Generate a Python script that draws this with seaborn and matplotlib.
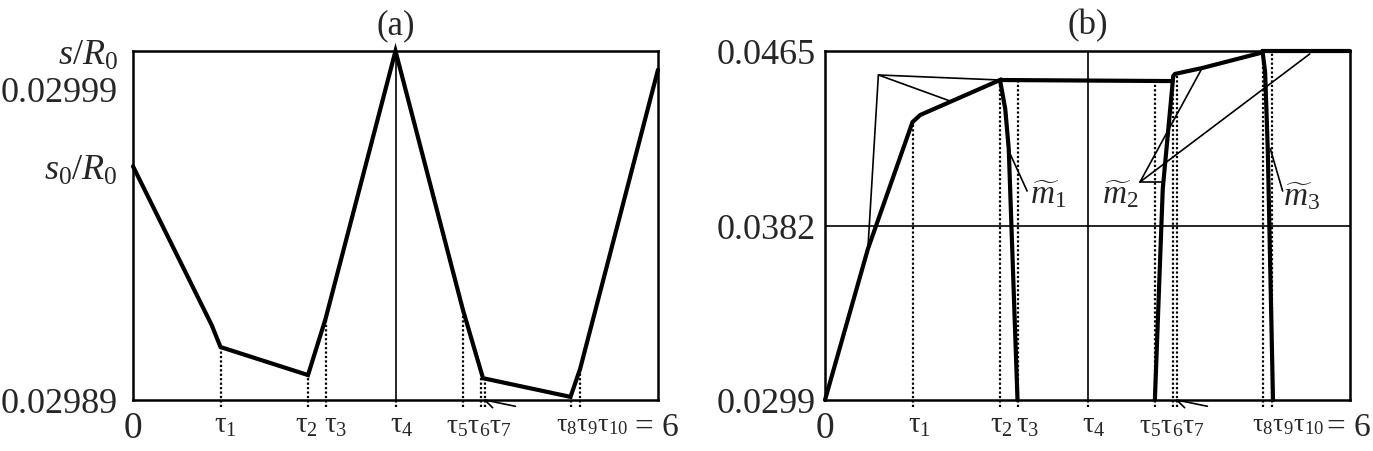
import pandas as pd
import seaborn as sns
import matplotlib.pyplot as plt
from matplotlib.transforms import blended_transform_factory, offset_copy

sns.set_style('white')
plt.rcParams['font.family'] = ['Liberation Serif', 'DejaVu Serif']
plt.rcParams['mathtext.fontset'] = 'custom'
plt.rcParams['mathtext.rm'] = 'Liberation Serif'
plt.rcParams['mathtext.it'] = 'Liberation Serif:italic'
plt.rcParams['mathtext.bf'] = 'Liberation Serif:bold'

# switching instants (same in both panels), tau10 = 6
tau = [1.0, 2.0, 2.2, 3.0, 3.77, 3.98, 4.02, 5.0, 5.11, 6.0]

# ---- panel (a): s/R0 trajectory
a_x = [0, 0.9, 1.0, 2.0, 2.2, 3.0, 3.77, 4.0, 5.0, 5.11, 6.0]
a_y = [0.029965, 0.029914, 0.029907, 0.029898, 0.029916, 0.030002,
       0.029919, 0.029897, 0.029891, 0.029900, 0.029996]
a_ylim = (0.02989, 0.030002)
a_yticks = [0.02989, 0.029965, 0.02999, 0.030002]
a_yticklabels = ['0.02989', '$s_0/R_0$', '0.02999', '$s/R_0$']
# top of the dotted drop line for tau1..tau9 (None -> solid full line)
a_drop = [0.029907, 0.029898, 0.029916, None, 0.029919, 0.029897, 0.029897, 0.029891, 0.029900]

# ---- panel (b): thick curves
b_c1_x = [0, 0.49, 1.0, 1.09, 2.0, 2.06, 2.1, 2.2]
b_c1_y = [0.0299, 0.03708, 0.04312, 0.04346, 0.04512, 0.04374, 0.04184, 0.0299]
b_c2_x = [2.0, 3.96]
b_c2_y = [0.04512, 0.04507]
b_c3_x = [3.77, 3.86, 3.98, 4.0, 4.31, 4.98, 5.0, 6.0]
b_c3_y = [0.0299, 0.03994, 0.04531, 0.04541, 0.04569, 0.04641, 0.0465, 0.0465]
b_c4_x = [5.0, 5.03, 5.06, 5.12]
b_c4_y = [0.0465, 0.0455, 0.04184, 0.0299]
# thin curves
b_t1_x = [0.49, 0.61, 2.0]
b_t1_y = [0.03708, 0.04536, 0.04512]
b_t2_x = [0.61, 1.43]
b_t2_y = [0.04536, 0.04412]
b_ylim = (0.0299, 0.0465)
b_yticks = [0.0299, 0.0382, 0.0465]
b_yticklabels = ['0.0299', '0.0382', '0.0465']
b_drop = [0.04312, 0.04512, 0.04512, None, 0.04507, 0.04531, 0.04541, 0.0465, 0.0465]

# m~ labels: (text, pointer x, pointer y, pointer targets, label x, label y, align)
b_marks = [
    (r'$\widetilde{m}_1$', 2.31, 0.03984, [(2.09, 0.04184)], 2.34, 0.03975, 'left'),
    (r'$\widetilde{m}_2$', 3.6, 0.04027, [(4.31, 0.04569), (5.54, 0.04636), (3.86, 0.04027)],
     3.59, 0.03975, 'right'),
    (r'$\widetilde{m}_3$', 5.23, 0.03984, [(5.09, 0.04184)], 5.23, 0.03965, 'left'),
]


def t(n):
    return r'\mathrm{\tau}_{%d}' % n


# bottom labels: (tau index, text, x offset in px, font size)
a_labels = [(0, '$' + t(1) + '$', -6, 21), (1, '$' + t(2) + '$', -13, 21),
            (2, '$' + t(3) + '$', -1, 21), (3, '$' + t(4) + '$', -6, 21),
            (4, '$' + t(5) + t(6) + t(7) + '$', -17, 20),
            (7, '$' + t(8) + t(9) + t(10) + '$', -15, 19)]
b_labels = [(0, '$' + t(1) + '$', -5, 21), (1, '$' + t(2) + '$', -10, 21),
            (2, '$' + t(3) + '$', -2, 21), (3, '$' + t(4) + '$', -5, 21),
            (4, '$' + t(5) + t(6) + t(7) + '$', -16, 20),
            (7, '$' + t(8) + t(9) + t(10) + '$', -11, 19)]

fig = plt.figure(figsize=(13.73, 4.52), dpi=100)
ax_a = fig.add_axes([133 / 1373, 51 / 452, 525 / 1373, 349 / 452])
ax_b = fig.add_axes([825 / 1373, 51 / 452, 525 / 1373, 349 / 452])

THICK, THIN, SPINE = 3.0, 1.2, 1.8
DOT = (0, (1, 1))


def thick(ax, xs, ys):
    df = pd.DataFrame({'t': xs, 'v': ys})
    sns.lineplot(data=df, x='t', y='v', ax=ax, sort=False, estimator=None,
                 color='black', lw=THICK, clip_on=False, solid_joinstyle='miter')


def thin(ax, xs, ys):
    df = pd.DataFrame({'t': xs, 'v': ys})
    sns.lineplot(data=df, x='t', y='v', ax=ax, sort=False, estimator=None,
                 color='black', lw=THIN, clip_on=False)


def frame(ax, ylim, yticks, yticklabels, drops, labels, pad, title):
    ax.set_xlim(0, 6)
    ax.set_ylim(*ylim)
    span = ylim[1] - ylim[0]
    low = ylim[0] - 0.02 * span
    for k, top in enumerate(drops):
        if top is None:
            ax.vlines(tau[k], ylim[0], ylim[1], color='black', lw=THIN)
            ax.vlines(tau[k], low, ylim[0], color='black', lw=1.6, linestyles=DOT, clip_on=False)
        else:
            ax.vlines(tau[k], low, top, color='black', lw=1.6, linestyles=DOT, clip_on=False)
    ax.set_xticks([])
    ax.set_yticks(yticks)
    ax.set_yticklabels(yticklabels)
    ax.tick_params(axis='y', length=0, pad=pad, labelsize=26)
    ax.set_xlabel('')
    ax.set_ylabel('')
    for s in ax.spines.values():
        s.set_visible(True)
        s.set_color('black')
        s.set_linewidth(SPINE)
    tr = blended_transform_factory(ax.transData, ax.transAxes)
    ax.text(0, -0.08, '0', transform=tr, ha='center', va='center', fontsize=27)
    for k, txt, dx, fs in labels:
        ax.text(tau[k], -0.072, txt, transform=offset_copy(tr, fig=fig, x=dx, y=0, units='dots'),
                ha='left', va='center', fontsize=fs)
    # "= 6" after tau10
    ax.text(tau[9], -0.078, '= 6', transform=offset_copy(tr, fig=fig, x=21, y=0, units='dots'),
            ha='right', va='center', fontsize=24)
    # small pointer wedge next to tau7
    ax.plot([tau[6] + 0.35, tau[6], tau[6] + 0.09], [-0.018, 0, -0.022], transform=tr,
            color='black', lw=THIN, clip_on=False)
    ax.text(0.5, 1.075, title, transform=ax.transAxes, ha='center', va='center', fontsize=25)


# panel (a)
thick(ax_a, a_x, a_y)
frame(ax_a, a_ylim, a_yticks, a_yticklabels, a_drop, a_labels, 11, '(a)')

# panel (b)
ax_b.axhline(0.0382, color='black', lw=THIN)
thin(ax_b, b_t1_x, b_t1_y)
thin(ax_b, b_t2_x, b_t2_y)
for txt, px, py, targets, lx, ly, ha in b_marks:
    for tx, ty in targets:
        ax_b.plot([px, tx], [py, ty], color='black', lw=THIN)
    ax_b.text(lx, ly, txt, ha=ha, va='center', fontsize=24)
thick(ax_b, b_c1_x, b_c1_y)
thick(ax_b, b_c2_x, b_c2_y)
thick(ax_b, b_c3_x, b_c3_y)
thick(ax_b, b_c4_x, b_c4_y)
frame(ax_b, b_ylim, b_yticks, b_yticklabels, b_drop, b_labels, 6.5, '(b)')

fig.savefig('out.png', dpi=100)
